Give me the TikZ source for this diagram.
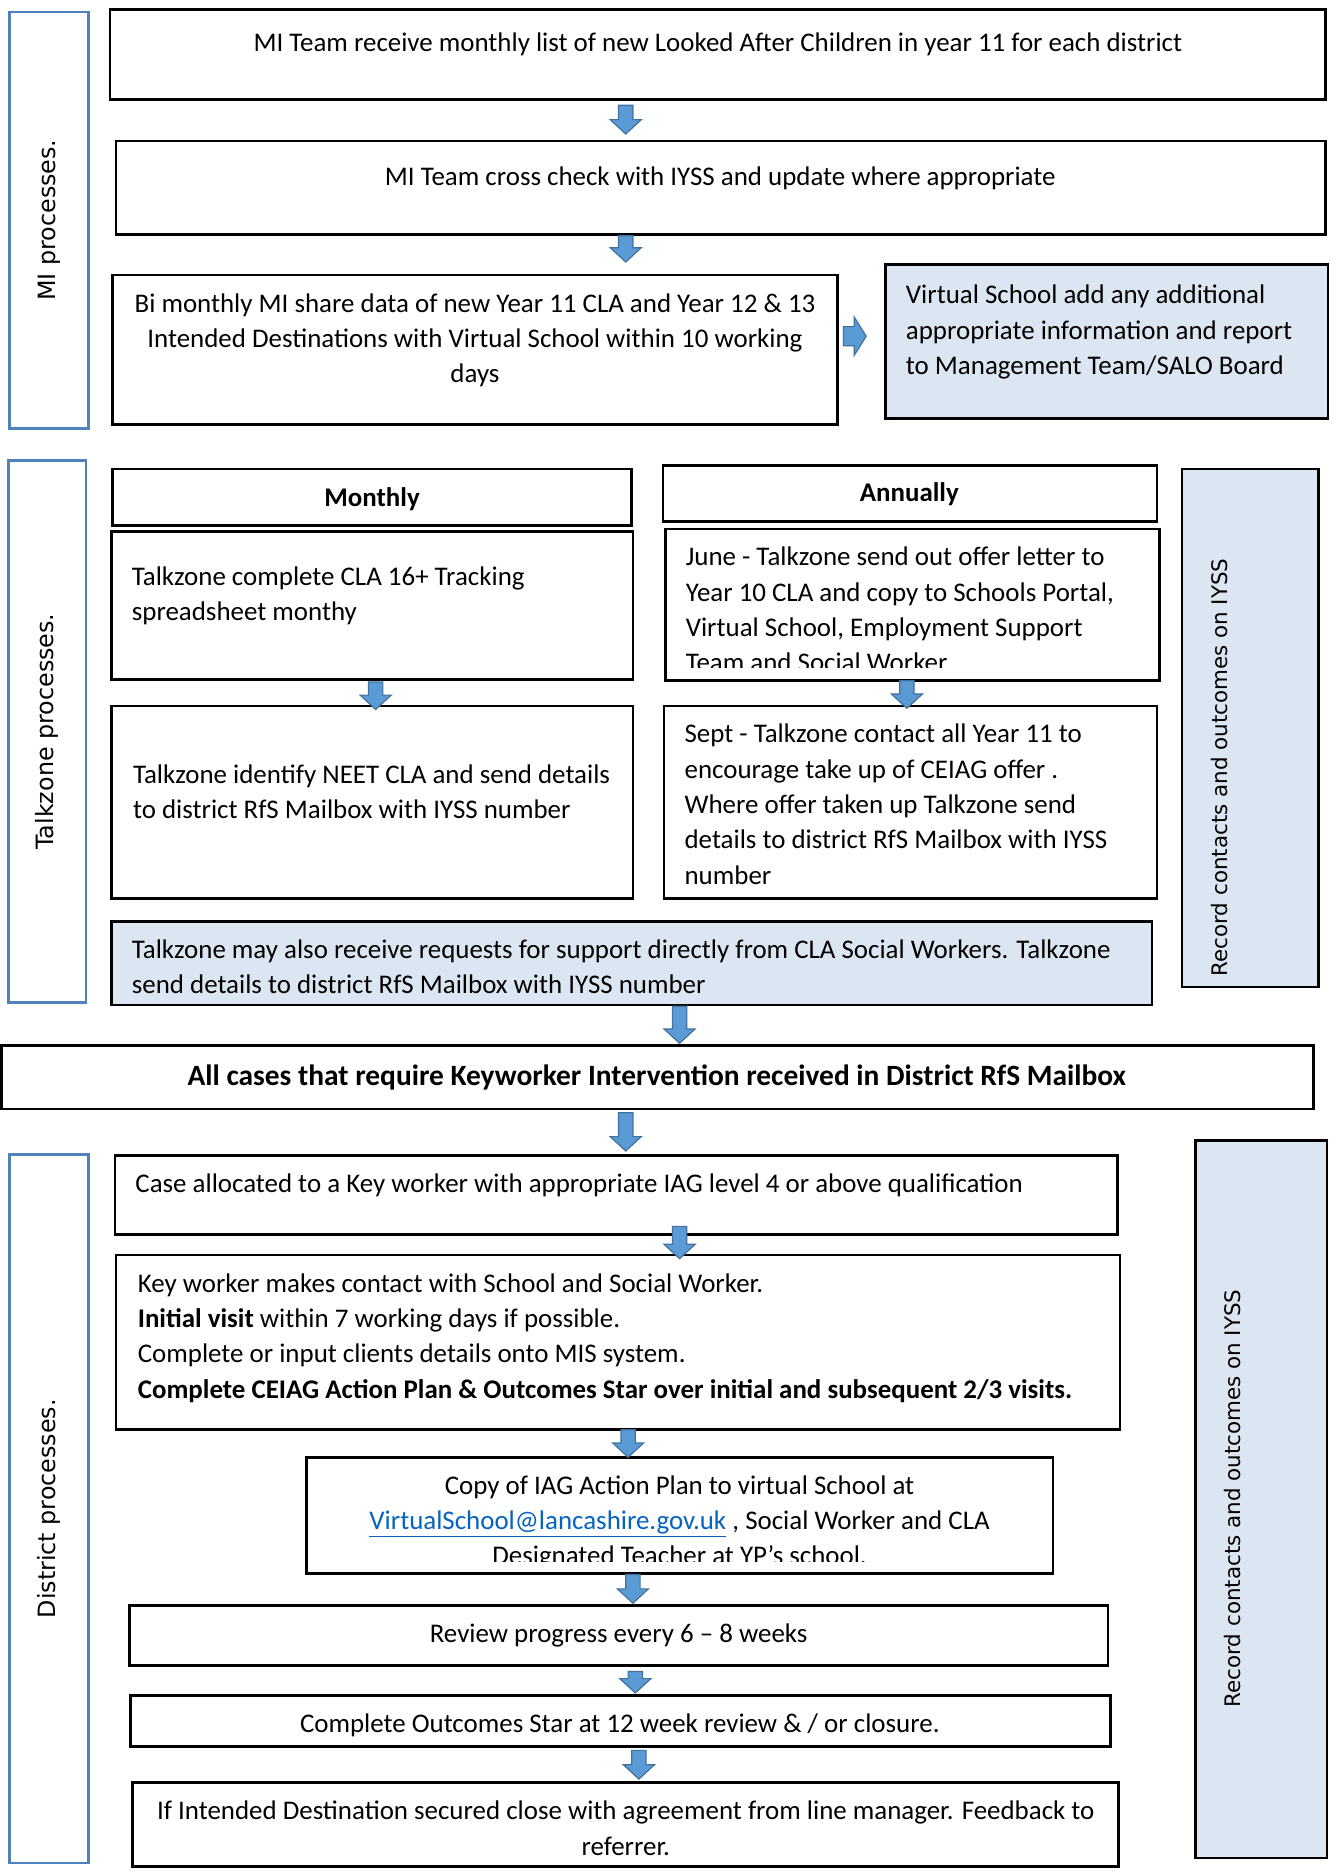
\documentclass[tikz,border=0pt]{standalone}
\usepackage{fontspec}
\setmainfont{Carlito}
\newfontfamily\sidefont{DejaVu Sans}
\usetikzlibrary{calc,fit}
\definecolor{lblue}{RGB}{220,230,242}
\definecolor{sideblue}{RGB}{79,129,189}
\definecolor{arrfill}{RGB}{91,155,213}
\definecolor{arredge}{RGB}{65,113,156}
\definecolor{linkblue}{RGB}{5,99,193}
\newcommand\lefttext[2]{\parbox[t]{#1}{\raggedright #2}}
\newcommand\centtext[2]{\parbox[t]{#1}{\centering #2}}
\newcommand\darrow[2]{%
  \path[arr] let \p1=(#1), \p2=(#2) in
  (\x1-6pt,\y1) -- (\x1+6pt,\y1) -- (\x1+6pt,\y2+12pt) -- (\x1+13pt,\y2+12pt)
  -- (\x1,\y2) -- (\x1-13pt,\y2+12pt) -- (\x1-6pt,\y2+12pt) -- cycle;}
\newcommand\rarrow[2]{%
  \path[arr] let \p1=(#1), \p2=(#2) in
  (\x1,\y1+8pt) -- (\x2-10pt,\y1+8pt) -- (\x2-10pt,\y1+16pt) -- (\x2,\y1)
  -- (\x2-10pt,\y1-16pt) -- (\x2-10pt,\y1-8pt) -- (\x1,\y1-8pt) -- cycle;}
\begin{document}
\begin{tikzpicture}[x=1pt,y=1pt,
  box/.style={draw=black, line width=2.2pt, fill=white, inner sep=0pt},
  lbox/.style={box, fill=lblue},
  side/.style={draw=sideblue, line width=2pt, fill=white, inner sep=0pt},
  txt/.style={inner sep=0pt, font=\fontsize{22.5}{29.5}\selectfont},
  btxt/.style={inner sep=0pt, font=\fontsize{22.5}{29.5}\selectfont\bfseries},
  sidetxt/.style={inner sep=0pt, rotate=90, font=\sidefont\fontsize{19.9}{23}\selectfont},
  rectxt/.style={inner sep=0pt, rotate=90, font=\sidefont\fontsize{17.9}{22}\selectfont},
  arr/.style={fill=arrfill, draw=arredge, line width=1pt, line join=miter}]
\useasboundingbox (0,0) rectangle (1116,-1568);

% ---------- side labels ----------
\node[side, fit={(8,-10)(74,-358)}] (SMI) {};
\node[sidetxt] (SMIt) at (SMI.center) {MI processes.};
\node[side, fit={(7,-385)(72,-838)}] (STZ) {};
\node[sidetxt] (STZt) at (STZ.center) {Talkzone processes.};
\node[side, fit={(8,-965)(74,-1557)}] (SDI) {};
\node[sidetxt] (SDIt) at (SDI.center) {District processes.};

\node[lbox, fit={(988,-392)(1102,-825)}] (R1) {};
\node[rectxt] (R1t) at (1019,-641.5) {Record contacts and outcomes on IYSS};
\node[lbox, fit={(999,-953)(1109,-1553)}] (R2) {};
\node[rectxt] (R2t) at (1030,-1252.5) {Record contacts and outcomes on IYSS};

% ---------- MI section ----------
\node[box, fit={(92,-8)(1108,-83)}] (A) {};
\node[txt, anchor=base] (At) at (600,-43) {MI Team receive monthly list of new Looked After Children in year 11 for each district};

\node[box, fit={(97,-118)(1108,-196)}] (B) {};
\node[txt, anchor=base] (Bt) at (602,-155) {MI Team cross check with IYSS and update where appropriate};

\node[box, fit={(94,-230)(700,-355)}] (C) {};
\node[txt, anchor=base] (Ct) at (397,-261) {\centtext{600pt}{Bi monthly MI share data of new Year 11 CLA and Year 12 \& 13\\ Intended Destinations with Virtual School within 10 working\\ days}};

\node[lbox, fit={(740,-221)(1110,-350)}] (D) {};
\node[txt, anchor=base west] (Dt) at (757,-254) {\lefttext{350pt}{Virtual School add any additional\\ appropriate information and report\\ to Management Team/SALO Board}};

% ---------- Talkzone section ----------
\node[box, fit={(94,-392)(528,-439)}] (HM) {};
\node[btxt, anchor=base] (HMt) at (311,-423) {Monthly};
\node[box, fit={(554,-389)(967,-436)}] (HA) {};
\node[btxt, anchor=base] (HAt) at (760,-419) {Annually};

\node[box, fit={(93,-444)(529,-568)}] (M1) {};
\node[txt, anchor=base west] (M1t) at (110,-489) {\lefttext{410pt}{Talkzone complete CLA 16+ Tracking\\ spreadsheet monthy}};

\node[box, fit={(556,-442)(969,-569)}] (J) {};
\begin{scope}
\clip (J.north west) rectangle (969,-558);
\node[txt, anchor=base west] (Jt) at (573,-473) {\lefttext{390pt}{June - Talkzone send out offer letter to\\ Year 10 CLA and copy to Schools Portal,\\ Virtual School, Employment Support\\ Team and Social Worker}};
\end{scope}

\node[box, fit={(93,-590)(529,-751)}] (M2) {};
\node[txt, anchor=base west] (M2t) at (111,-655) {\lefttext{415pt}{Talkzone identify NEET CLA and send details\\ to district RfS Mailbox with IYSS number}};

\node[box, fit={(555,-590)(967,-751)}] (S) {};
\node[txt, anchor=base west] (St) at (572,-621) {\lefttext{390pt}{Sept - Talkzone contact all Year 11 to\\ encourage take up of CEIAG offer .\\ Where offer taken up Talkzone send\\ details to district RfS Mailbox with IYSS\\ number}};

\node[lbox, fit={(93,-770)(963,-840)}] (TM) {};
\node[txt, anchor=base west] (TMt) at (110,-801) {\lefttext{850pt}{Talkzone may also receive requests for support directly from CLA Social Workers. Talkzone\\ send details to district RfS Mailbox with IYSS number}};

% ---------- All cases ----------
\node[box, fit={(1,-874)(1098,-927)}] (AC) {};
\node[inner sep=0pt, font=\fontsize{24.6}{29.5}\selectfont\bfseries, anchor=base] (ACt) at (549,-907) {All cases that require Keyworker Intervention received in District RfS Mailbox};

% ---------- District section ----------
\node[box, fit={(96,-966)(934,-1032)}] (K1) {};
\node[txt, anchor=base west] (K1t) at (113,-997) {Case allocated to a Key worker with appropriate IAG level 4 or above qualification};

\node[box, fit={(97,-1049)(936,-1195)}] (K2) {};
\node[txt, anchor=base west] (K2t) at (115,-1080) {\lefttext{815pt}{Key worker makes contact with School and Social Worker.\\ \textbf{Initial visit} within 7 working days if possible.\\ Complete or input clients details onto MIS system.\\ \textbf{Complete CEIAG Action Plan \& Outcomes Star over initial and subsequent 2/3 visits.}}};

\node[box, fit={(256,-1218)(880,-1315)}] (CP) {};
\begin{scope}
\clip (CP.north west) rectangle (880,-1305);
\node[txt, anchor=base] (CPt) at (568,-1249) {\centtext{610pt}{Copy of IAG Action Plan to virtual School at\\ \textcolor{linkblue}{\underline{VirtualSchool@lancashire.gov.uk}} , Social Worker and CLA\\ Designated Teacher at YP's school.}};
\end{scope}

\node[box, fit={(108,-1342)(926,-1392)}] (RV) {};
\node[txt, anchor=base] (RVt) at (517,-1373) {Review progress every 6 -- 8 weeks};

\node[box, fit={(109,-1417)(928,-1460)}] (OS) {};
\node[txt, anchor=base] (OSt) at (518,-1448) {Complete Outcomes Star at 12 week review \& / or closure.};

\node[box, fit={(111,-1490)(935,-1560)}] (ID) {};
\node[txt, anchor=base] (IDt) at (523,-1521) {\centtext{810pt}{If Intended Destination secured close with agreement from line manager. Feedback to\\ referrer.}};

% ---------- arrows ----------
\coordinate (a1s) at (523,-88);   \coordinate (a1e) at (523,-112);
\coordinate (a2s) at (523,-197);  \coordinate (a2e) at (523,-219);
\coordinate (a3s) at (314,-570);  \coordinate (a3e) at (314,-593);
\coordinate (a4s) at (758,-569);  \coordinate (a4e) at (758,-592);
\coordinate (a5s) at (568,-841);  \coordinate (a5e) at (568,-872);
\coordinate (a6s) at (523,-930);  \coordinate (a6e) at (523,-962);
\coordinate (a7s) at (568,-1025); \coordinate (a7e) at (568,-1052);
\coordinate (a8s) at (525,-1195); \coordinate (a8e) at (525,-1218);
\coordinate (a9s) at (529,-1316); \coordinate (a9e) at (529,-1340);
\coordinate (a10s) at (531,-1397); \coordinate (a10e) at (531,-1415);
\coordinate (a11s) at (534,-1463); \coordinate (a11e) at (534,-1487);
\coordinate (ars) at (705,-281);  \coordinate (are) at (724,-281);
\darrow{a1s}{a1e}
\darrow{a2s}{a2e}
\darrow{a3s}{a3e}
\darrow{a4s}{a4e}
\darrow{a5s}{a5e}
\darrow{a6s}{a6e}
\darrow{a7s}{a7e}
\darrow{a8s}{a8e}
\darrow{a9s}{a9e}
\darrow{a10s}{a10e}
\darrow{a11s}{a11e}
\rarrow{ars}{are}
\end{tikzpicture}
\end{document}
